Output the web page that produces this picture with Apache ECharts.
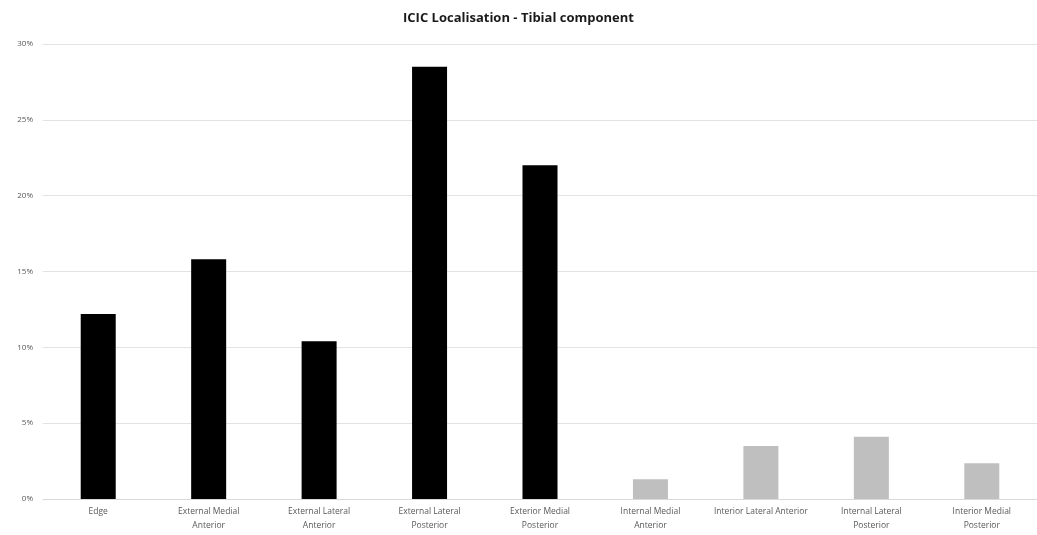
<!DOCTYPE html>
<html>
<head>
<meta charset="utf-8">
<script src="https://cdn.jsdelivr.net/npm/echarts@6/dist/echarts.min.js"></script>
<style>html,body{margin:0;padding:0;background:#fff;overflow:hidden}#c{width:1037px;height:535px}</style>
</head>
<body>
<div id="c"></div>
<script>
var categories = ['Edge','External Medial Anterior','External Lateral Anterior','External Lateral Posterior','Exterior Medial Posterior','Internal Medial Anterior','Interior Lateral Anterior','Internal Lateral Posterior','Interior Medial Posterior'];
var tickLabels = ['Edge','External Medial\nAnterior','External Lateral\nAnterior','External Lateral\nPosterior','Exterior Medial\nPosterior','Internal Medial\nAnterior','Interior Lateral Anterior','Internal Lateral\nPosterior','Interior Medial\nPosterior'];
var surface = ['external','external','external','external','external','internal','internal','internal','internal'];
var values = [12.2, 15.8, 10.4, 28.5, 22.0, 1.3, 3.5, 4.1, 2.35];
var yTicks = [0,5,10,15,20,25,30];

var colorMap = {external:'#000000', internal:'#bfbfbf'};
var chart = echarts.init(document.getElementById('c'));
chart.setOption({
  animation:false,
  title:{text:'ICIC Localisation - Tibial component',left:'center',top:7,
    textStyle:{fontFamily:'Open Sans',fontSize:13,fontWeight:'bold',color:'#1a1a1a'}},
  grid:{left:43,right:-4,top:44,bottom:36},
  xAxis:{type:'category',data:categories,
    axisLine:{lineStyle:{color:'#d9d9d9'}},axisTick:{show:false},
    axisLabel:{interval:0,fontFamily:'Open Sans',fontSize:8.5,color:'#595959',lineHeight:14,margin:6,
      formatter:function(v,i){return tickLabels[i];}}},
  yAxis:{type:'value',min:yTicks[0],max:yTicks[yTicks.length-1],interval:5,
    axisLine:{show:false},axisTick:{show:false},
    splitLine:{lineStyle:{color:'#e3e3e3',width:1}},
    axisLabel:{fontFamily:'Open Sans',fontSize:8,color:'#595959',margin:10,formatter:function(v){return v+'%';}}},
  series:[{type:'bar',barWidth:35,
    data:values.map(function(v,i){return {value:v,itemStyle:{color:colorMap[surface[i]]}};})}]
});
</script>
</body>
</html>
